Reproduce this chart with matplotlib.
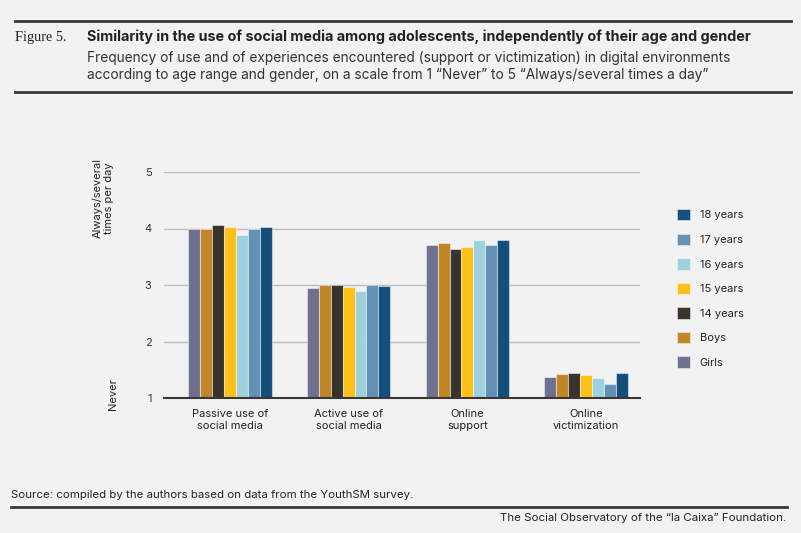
import matplotlib
matplotlib.use("Agg")
import matplotlib.pyplot as plt
import numpy as np
from matplotlib.patches import Patch
from matplotlib.lines import Line2D

categories = ["Passive use of\nsocial media", "Active use of\nsocial media",
              "Online\nsupport", "Online\nvictimization"]
series_names = ["Girls", "Boys", "14 years", "15 years", "16 years", "17 years", "18 years"]
girls = [4.00, 2.95, 3.71, 1.37]
boys = [4.00, 3.00, 3.74, 1.42]
age14 = [4.06, 3.00, 3.63, 1.44]
age15 = [4.02, 2.96, 3.67, 1.40]
age16 = [3.88, 2.89, 3.79, 1.36]
age17 = [4.00, 3.00, 3.71, 1.25]
age18 = [4.02, 2.98, 3.79, 1.45]
yticks = [1, 2, 3, 4, 5]

series = [girls, boys, age14, age15, age16, age17, age18]
colors = ["#6e7090", "#c08526", "#38332d", "#ffc01a", "#9dd2dc", "#6390b5", "#124f7b"]

BG = "#f2f2f2"
DARK = "#3a3633"
SANS = ["Inter", "Roboto", "DejaVu Sans"]

fig = plt.figure(figsize=(8.01, 5.33), dpi=100, facecolor=BG)
ax = fig.add_axes([164 / 801, 1 - 398 / 533, 476 / 801, 226 / 533], facecolor=BG)
renderer = fig.canvas.get_renderer()


def fit(t, target_w):
    # scale font size so the text spans about target_w pixels
    w = t.get_window_extent(renderer).width
    t.set_fontsize(t.get_fontsize() * target_w / w)


x = np.arange(len(categories))
width = 0.1
for i, (vals, col) in enumerate(zip(series, colors)):
    offs = (i - 3) * width
    ax.bar(x + offs, np.array(vals) - 1, width, bottom=1, color=col,
           edgecolor=(1, 1, 1, 0.45), linewidth=0.8, zorder=3)

ax.set_ylim(1, 5)
ax.set_xlim(-0.556, 3.455)
ax.set_yticks(yticks)
ax.set_yticklabels([str(t) for t in yticks], fontsize=8, family=SANS, color="#333333")
ax.set_xticks(x)
ax.set_xticklabels(categories, fontsize=8, family=SANS, color="#222222", linespacing=1.2)
ax.tick_params(axis="both", length=0)
ax.tick_params(axis="y", pad=9)
ax.tick_params(axis="x", pad=8)
ax.grid(axis="y", color="#bdbdbd", linewidth=1, zorder=0)
for s in ["top", "right", "left"]:
    ax.spines[s].set_visible(False)
ax.spines["bottom"].set_color(DARK)
ax.spines["bottom"].set_linewidth(1.5)
ax.spines["bottom"].set_zorder(4)

fig.text(103 / 801, 1 - 198 / 533, "Always/several\ntimes per day", rotation=90,
         ha="center", va="center", fontsize=8, family=SANS, color="#222222",
         linespacing=1.15)
fig.text(113 / 801, 1 - 394 / 533, "Never", rotation=90, ha="center", va="center",
         fontsize=8, family=SANS, color="#222222")

handles = [Patch(facecolor=c, edgecolor=(1, 1, 1, 0.45), linewidth=0.8) for c in colors]
leg = fig.legend(handles[::-1], series_names[::-1], loc="upper left",
                 bbox_to_anchor=(677 / 801, 1 - 209 / 533), frameon=False,
                 prop={"family": SANS, "size": 8}, handlelength=1.2,
                 handleheight=1.2, labelspacing=1.18, handletextpad=0.85,
                 borderaxespad=0, borderpad=0)
for t in leg.get_texts():
    t.set_color("#222222")

# header and footer rules
for yy, x0, x1 in [(21, 15, 791), (91.5, 15, 791), (507, 11, 787)]:
    fig.add_artist(Line2D([x0 / 801, x1 / 801], [1 - yy / 533] * 2, color=DARK,
                          linewidth=2, transform=fig.transFigure))

fig_lbl = fig.text(15 / 801, 1 - 37 / 533, "Figure 5.", fontsize=10,
                   family="Liberation Serif", color="#222222", va="center")
fit(fig_lbl, 51)
title = fig.text(87 / 801, 1 - 37 / 533,
                 "Similarity in the use of social media among adolescents, independently of their age and gender",
                 fontsize=10, family=SANS, weight="bold", color="#222222", va="center")
fit(title, 663)
sub1 = fig.text(87 / 801, 1 - 58 / 533,
                "Frequency of use and of experiences encountered (support or victimization) in digital environments",
                fontsize=9.5, family=SANS, color="#333333", va="center")
fit(sub1, 644)
fig.text(87 / 801, 1 - 75.5 / 533,
         "according to age range and gender, on a scale from 1 \u201cNever\u201d to 5 \u201cAlways/several times a day\u201d",
         fontsize=sub1.get_fontsize(), family=SANS, color="#333333", va="center")
src = fig.text(11 / 801, 1 - 495 / 533,
               "Source: compiled by the authors based on data from the YouthSM survey.",
               fontsize=8, family=SANS, color="#222222", va="center")
fit(src, 404)
foot = fig.text(786 / 801, 1 - 518 / 533,
                "The Social Observatory of the \u201cla Caixa\u201d Foundation.",
                fontsize=8, family=SANS, color="#222222", va="center", ha="right")
fit(foot, 288)

fig.savefig("out.png", dpi=100, facecolor=BG)
